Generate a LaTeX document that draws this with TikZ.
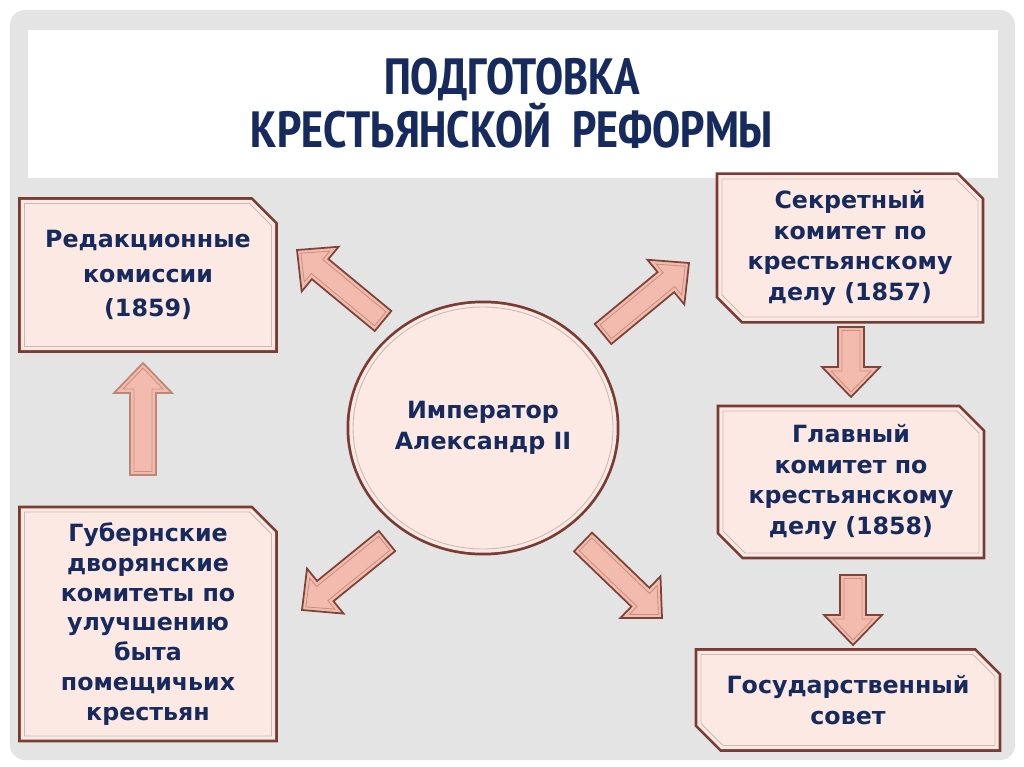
\documentclass[tikz,border=0pt]{standalone}
\usepackage{fontspec}
\setmainfont{DejaVu Sans}
\newfontfamily\titlefont{PT Sans Narrow}
\usetikzlibrary{shapes.misc,shapes.geometric,positioning,calc}

\definecolor{navy}{HTML}{172A5E}
\definecolor{panel}{HTML}{E4E4E4}
\definecolor{boxfill}{HTML}{FCE9E3}
\definecolor{boxline}{HTML}{7A3B32}
\definecolor{innerline}{HTML}{CDB9B4}
\definecolor{arrowfill}{HTML}{F2BBAD}
\definecolor{arrowline}{HTML}{7E443A}

% block arrow from tail #2 to tip #3
\newcommand{\fatarrow}[3][]{%
  \coordinate (n) at ($(#3)!0.6cm!(#2)$);
  \filldraw[fatarr,#1] ($(#2)!0.26cm!90:(#3)$) -- ($(n)!0.26cm!90:(#3)$) -- ($(n)!0.58cm!90:(#3)$) -- (#3)
    -- ($(n)!0.58cm!-90:(#3)$) -- ($(n)!0.26cm!-90:(#3)$) -- ($(#2)!0.26cm!-90:(#3)$) -- cycle;
  \coordinate (ai) at ($(#2)!0.07cm!(#3)$);
  \coordinate (bi) at ($(#3)!0.10cm!(#2)$);
  \coordinate (ni) at ($(#3)!0.52cm!(#2)$);
  \draw[fatinner] ($(ai)!0.18cm!90:(bi)$) -- ($(ni)!0.18cm!90:(bi)$) -- ($(ni)!0.40cm!90:(bi)$) -- (bi)
    -- ($(ni)!0.40cm!-90:(bi)$) -- ($(ni)!0.18cm!-90:(bi)$) -- ($(ai)!0.18cm!-90:(bi)$) -- cycle;
}

\begin{document}
\begin{tikzpicture}[
    x=0.02cm, y=-0.02cm,
    framed/.style={preaction={draw=boxline, line width=0.26cm}, preaction={draw=boxfill, line width=0.15cm},
      fill=boxfill, draw=innerline, line width=0.5pt, text=navy, align=center,
      font=\fontsize{13.5}{17.6}\selectfont\bfseries},
    panelbox/.style={framed, chamfered rectangle, chamfered rectangle sep=0.22cm, inner sep=0pt},
    emperor/.style={framed, ellipse, inner sep=0pt, minimum width=5.2cm, minimum height=4.84cm},
    titletext/.style={text=navy, align=center, font=\titlefont\bfseries\fontsize{29}{28.5}\selectfont},
    fatarr/.style={fill=arrowfill, draw=arrowline, line width=1pt, line join=miter},
    fatinner/.style={draw=arrowline!35!arrowfill, line width=0.5pt}
]
\useasboundingbox (0,0) rectangle (1024,767);
\fill[white] (0,0) rectangle (1024,767);
\fill[panel, rounded corners=0.3cm] (10,10) rectangle (1015,760);
\fill[white] (28,30) rectangle (998,178);

% Title
\node[titletext] (title) at (512,103) {ПОДГОТОВКА\\КРЕСТЬЯНСКОЙ~~РЕФОРМЫ};

% Centre
\node[emperor] (emp) at (483,428) {Император\\Александр II};

% Left column
\node[panelbox, chamfered rectangle corners=north east, minimum width=4.94cm, minimum height=2.86cm,
  font=\fontsize{13.5}{19.4}\selectfont\bfseries]
  (red) at (148,275) {Редакционные\\комиссии\\(1859)};
\node[panelbox, chamfered rectangle corners=north east, minimum width=4.94cm, minimum height=4.48cm,
  font=\fontsize{13.5}{16.9}\selectfont\bfseries]
  (gub) at (148,624) {Губернские\\дворянские\\комитеты по\\улучшению\\быта\\помещичьих\\крестьян};

% Right column
\node[panelbox, chamfered rectangle corners={north east,south west}, minimum width=5.12cm, minimum height=2.34cm]
  (sec) at (850,248) {Секретный\\комитет по\\крестьянскому\\делу (1857)};
\node[panelbox, chamfered rectangle corners={north east,south west}, minimum width=5.12cm, minimum height=2.84cm]
  (glav) at (851,482) {Главный\\комитет по\\крестьянскому\\делу (1858)};
\node[panelbox, chamfered rectangle corners={north east,south west}, minimum width=5.88cm, minimum height=1.82cm]
  (gos) at (848,700) {Государственный\\совет};

% Arrow ends
\coordinate (ulTail) at (383,321);  \coordinate (ulTip) at (297,250);
\coordinate (urTail) at (603,334);  \coordinate (urTip) at (689,263);
\coordinate (llTail) at (387,541);  \coordinate (llTip) at (302,610);
\coordinate (lrTail) at (583,542);  \coordinate (lrTip) at (662,618);
\coordinate (upTail) at (143,475);  \coordinate (upTip) at (143,363);
\coordinate (d1Tail) at (851,327);  \coordinate (d1Tip) at (851,397);
\coordinate (d2Tail) at (853,575);  \coordinate (d2Tip) at (853,645);

% Arrows
\fatarrow{ulTail}{ulTip}
\fatarrow{urTail}{urTip}
\fatarrow{llTail}{llTip}
\fatarrow{lrTail}{lrTip}
\fatarrow[draw=arrowline!45!arrowfill]{upTail}{upTip}
\fatarrow{d1Tail}{d1Tip}
\fatarrow{d2Tail}{d2Tip}

\end{tikzpicture}
\end{document}
